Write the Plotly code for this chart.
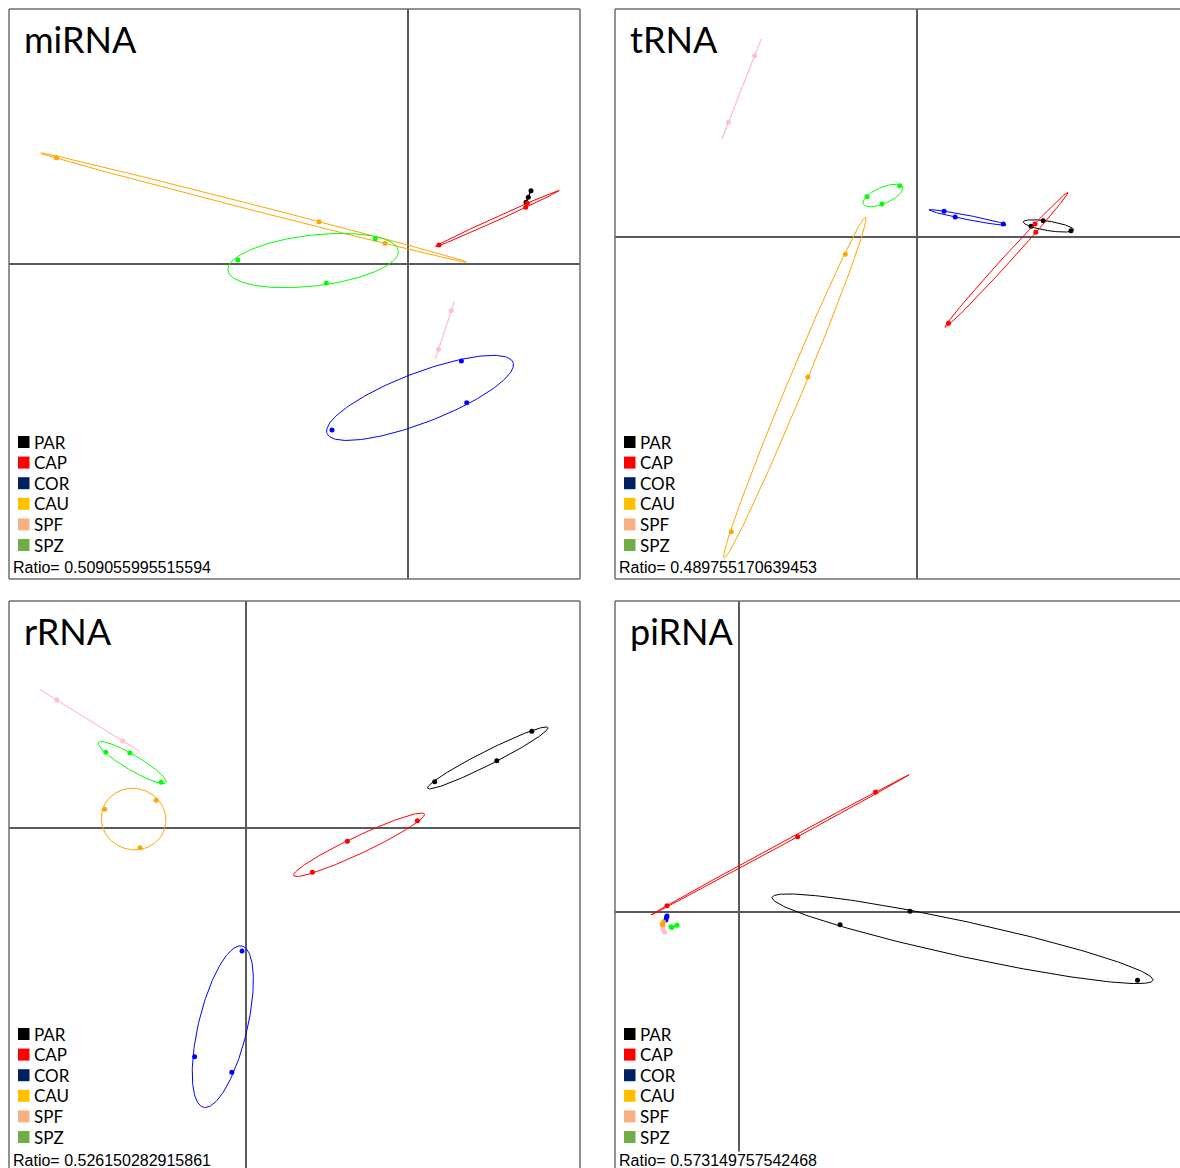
import numpy as np
import plotly.graph_objects as go

W, H = 1180, 1168

groups = ["PAR", "CAP", "COR", "CAU", "SPF", "SPZ"]
point_colors = ["#000000", "#FF0000", "#0000FF", "#FFA500", "#FFC0CB", "#00FF00"]
legend_colors = ["#000000", "#FF0000", "#002060", "#FFC000", "#F4B183", "#70AD47"]
panel_names = ["miRNA", "tRNA", "rRNA", "piRNA"]
ratios = ["0.509055995515594", "0.489755170639453", "0.526150282915861", "0.573149757542468"]

# sample coordinates per group (PAR, CAP, COR, CAU, SPF, SPZ)
mirna_x = [[1.230, 1.203, 1.180], [0.310, 1.177, 1.193], [-0.760, 0.534, 0.587],
           [-3.515, -0.890, -0.230], [0.433, 0.305], [-1.701, -0.328, -0.817]]
mirna_y = [[0.733, 0.667, 0.617], [0.190, 0.567, 0.607], [-1.660, -0.970, -1.387],
           [1.063, 0.423, 0.207], [-0.467, -0.853], [0.040, 0.253, -0.190]]

trna_x = [[1.140, 1.262, 1.540], [1.180, 1.188, 0.315], [0.271, 0.382, 0.863],
          [-0.717, -1.091, -1.857], [-1.624, -1.886], [-0.499, -0.173, -0.351]]
trna_y = [[0.107, 0.163, 0.063], [0.130, 0.047, -0.863], [0.257, 0.200, 0.130],
          [-0.173, -1.400, -2.947], [1.813, 1.147], [0.403, 0.513, 0.330]]

rrna_x = [[1.887, 2.508, 2.858], [0.664, 1.014, 1.714], [-0.040, -0.514, -0.142],
          [-1.414, -0.898, -1.060], [-1.892, -1.233], [-1.402, -1.162, -0.849]]
rrna_y = [[0.463, 0.673, 0.967], [-0.443, -0.133, 0.073], [-1.230, -2.287, -2.443],
          [0.187, 0.277, -0.197], [1.280, 0.870], [0.757, 0.750, 0.457]]

pirna_x = [[1.011, 1.710, 3.985], [1.366, 0.586, -0.720], [-0.724, -0.731, -0.720],
           [-0.768, -0.755, -0.762], [-0.761, -0.743], [-0.680, -0.620, -0.670]]
pirna_y = [[-0.127, 0.007, -0.683], [1.200, 0.753, 0.063], [-0.053, -0.080, -0.040],
           [-0.120, -0.100, -0.135], [-0.173, -0.203], [-0.147, -0.133, -0.155]]

panel_x = [mirna_x, trna_x, rrna_x, pirna_x]
panel_y = [mirna_y, trna_y, rrna_y, pirna_y]

# panel geometry (pixels of the frame) and axis ranges
panels = [
    dict(left=9, right=580, top=9, bottom=579, xr=[-3.99, 1.72], yr=[-3.15, 2.55], sides="lrtb", bg=False),
    dict(left=615, right=1180, top=9, bottom=579, xr=[-3.02, 2.63], yr=[-3.42, 2.28], sides="ltb", bg=False),
    dict(left=9, right=580, top=601, bottom=1168, xr=[-2.37, 3.34], yr=[-3.40, 2.27], sides="lrt", bg=True),
    dict(left=615, right=1180, top=601, bottom=1168, xr=[-1.24, 4.41], yr=[-2.56, 3.11], sides="lt", bg=True),
]

CELL = 1.5


def ellipse(xs, ys, n=200):
    P = np.column_stack([xs, ys])
    m = P.mean(axis=0)
    D = P - m
    C = D.T @ D / len(P)
    vals, vecs = np.linalg.eigh(C)
    vals = np.clip(vals, 0, None)
    t = np.linspace(0, 2 * np.pi, n)
    circ = np.vstack([np.cos(t), np.sin(t)])
    E = vecs @ (np.sqrt(vals)[:, None] * circ) * CELL
    return m[0] + E[0], m[1] + E[1]


def px(x):
    return x / W


def py(y):
    return 1 - y / H


fig = go.Figure()
shapes = []
annotations = []
FRAME = "#6e6e6e"
AXIS = "#5a5a5a"

for k, p in enumerate(panels):
    ax = "" if k == 0 else str(k + 1)
    xa, ya = "x" + ax, "y" + ax
    for g in range(len(groups)):
        xs, ys = panel_x[k][g], panel_y[k][g]
        ex, ey = ellipse(xs, ys)
        fig.add_trace(go.Scatter(x=ex, y=ey, mode="lines", xaxis=xa, yaxis=ya,
                                 line=dict(color=point_colors[g], width=1),
                                 showlegend=False, hoverinfo="skip"))
        fig.add_trace(go.Scatter(x=xs, y=ys, mode="markers", xaxis=xa, yaxis=ya,
                                 marker=dict(color=point_colors[g], size=5),
                                 name=groups[g], showlegend=False))
    common = dict(showgrid=False, showticklabels=False, ticks="", zeroline=True,
                  zerolinecolor=AXIS, zerolinewidth=1.5, showline=False, fixedrange=True)
    fig.update_layout(**{
        "xaxis" + ax: dict(domain=[px(p["left"]), min(1, px(p["right"]))], range=p["xr"],
                           anchor=ya, **common),
        "yaxis" + ax: dict(domain=[max(0, py(p["bottom"])), py(p["top"])], range=p["yr"],
                           anchor=xa, **common),
    })
    # frame
    L, R, T, B = px(p["left"]), px(p["right"]), py(p["top"]), py(p["bottom"])
    lw = dict(color=FRAME, width=1.5)
    if "l" in p["sides"]:
        shapes.append(dict(type="line", xref="paper", yref="paper", x0=L, x1=L, y0=B, y1=T, line=lw))
    if "r" in p["sides"]:
        shapes.append(dict(type="line", xref="paper", yref="paper", x0=R, x1=R, y0=B, y1=T, line=lw))
    if "t" in p["sides"]:
        shapes.append(dict(type="line", xref="paper", yref="paper", x0=L, x1=R, y0=T, y1=T, line=lw))
    if "b" in p["sides"]:
        shapes.append(dict(type="line", xref="paper", yref="paper", x0=L, x1=R, y0=B, y1=B, line=lw))
    # title
    annotations.append(dict(text=panel_names[k], xref="paper", yref="paper",
                            x=px(p["left"] + 13), y=py(p["top"] + 30), xanchor="left", yanchor="middle",
                            showarrow=False, font=dict(family="Lato", size=36, color="black")))
    # legend
    for g in range(len(groups)):
        cy = p["top"] + 433 + g * 20.6
        shapes.append(dict(type="rect", xref="paper", yref="paper",
                           x0=px(p["left"] + 9), x1=px(p["left"] + 20.5),
                           y0=py(cy + 6), y1=py(cy - 6),
                           fillcolor=legend_colors[g], line=dict(width=0)))
        annotations.append(dict(text=groups[g], xref="paper", yref="paper",
                                x=px(p["left"] + 23), y=py(cy), xanchor="left", yanchor="middle",
                                showarrow=False, font=dict(family="Lato", size=17, color="black")))
    # ratio
    annotations.append(dict(text="Ratio= " + ratios[k], xref="paper", yref="paper",
                            x=px(p["left"] + 3), y=py(p["top"] + 559), xanchor="left", yanchor="middle",
                            showarrow=False, bgcolor="white" if p["bg"] else "rgba(0,0,0,0)", borderpad=0,
                            font=dict(family="Liberation Sans", size=16, color="black")))

fig.update_layout(width=W, height=H, margin=dict(l=0, r=0, t=0, b=0),
                  paper_bgcolor="white", plot_bgcolor="white",
                  shapes=shapes, annotations=annotations, showlegend=False)

fig.write_html("out.html", config={"displayModeBar": False},
               post_script="document.body.style.margin='0';document.body.style.overflow='hidden';")
